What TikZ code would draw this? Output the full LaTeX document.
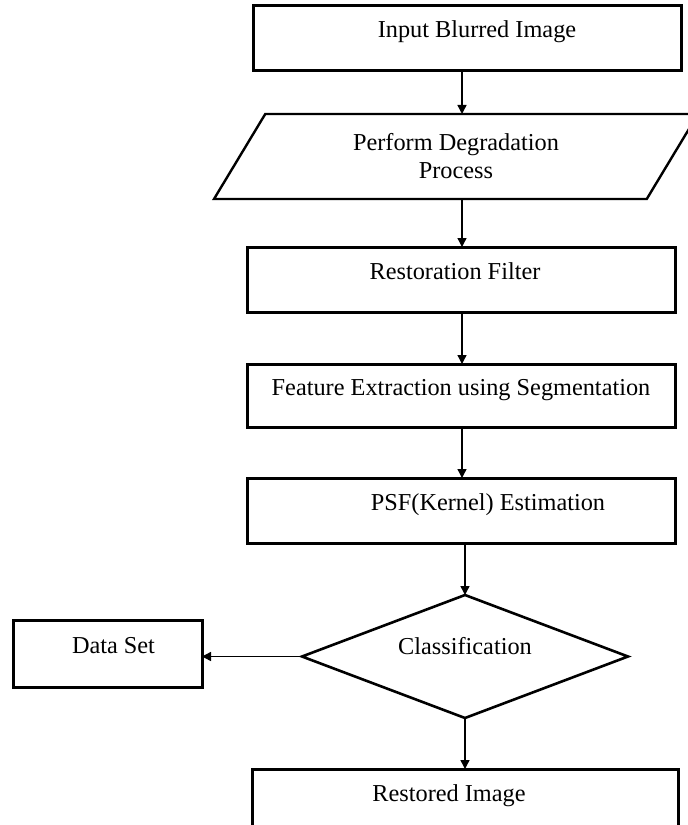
\documentclass[tikz,border=0pt]{standalone}
\usepackage{fontspec}
\setmainfont{Liberation Serif}
\usetikzlibrary{arrows.meta, shapes.geometric, positioning}

\begin{document}
\begin{tikzpicture}[% styles used in the flow chart
         x = 0.5pt, y = -0.5pt,
         > = {Triangle[length=4.5pt, width=4.5pt]},
      font = \fontsize{12.15pt}{14pt}\selectfont,
box/.style = {draw, line width=1.5pt, rectangle,
              minimum width=214pt, minimum height=32.5pt,
              inner sep=0pt, outer sep=0pt,
              text height=9pt, text depth=9pt},
 io/.style = {draw, line width=1.2pt, trapezium,
              trapezium left angle=41.5, trapezium right angle=138.5,
              trapezium stretches body,
              minimum width=242pt, minimum height=42.5pt,
              inner sep=0pt, outer sep=0pt, align=center},
dec/.style = {draw, line width=1.3pt, diamond, aspect=2.65,
              minimum width=163pt, minimum height=61.5pt,
              inner sep=0pt, outer sep=0pt,
              text height=8pt, text depth=10.5pt},
arr/.style = {->, line width=0.7pt}
                        ]
	\useasboundingbox (0,0) rectangle (688,825);

	% main column
	\node[box] (inp) at (467,37.5) {\hspace*{10pt}Input Blurred Image};
	\node[io]  (deg) at (456,156.5) {Perform Degradation\\Process};
	\node[box] (res) at (461,279.5) {Restoration Filter\hspace*{6pt}};
	\node[box, minimum height=31.5pt] (feat) at (461,395.5) {Feature Extraction using Segmentation};
	\node[box] (psf) at (461,510.5) {\hspace*{27pt}PSF(Kernel) Estimation};
	\node[dec] (cls) at (465,656.5) {Classification};
	\node[box, minimum width=213pt] (out) at (465,801.5) {Restored Image\hspace*{16pt}};

	% side box
	\node[box, minimum width=94.5pt, minimum height=33.5pt] (data) at (107.5,653.5) {\hspace*{6pt}Data Set};

	% arrows
	\coordinate (spine) at (462,0);
	\draw[arr] (spine |- inp.south)  -- (spine |- deg.north);
	\draw[arr] (spine |- deg.south)  -- (spine |- res.north);
	\draw[arr] (spine |- res.south)  -- (spine |- feat.north);
	\draw[arr] (spine |- feat.south) -- (spine |- psf.north);
	\draw[arr] (cls.north |- psf.south) -- (cls.north);
	\draw[arr] (cls.west) -- (data.east |- cls.west);
	\draw[arr] (cls.south) -- (cls.south |- out.north);
\end{tikzpicture}
\end{document}
